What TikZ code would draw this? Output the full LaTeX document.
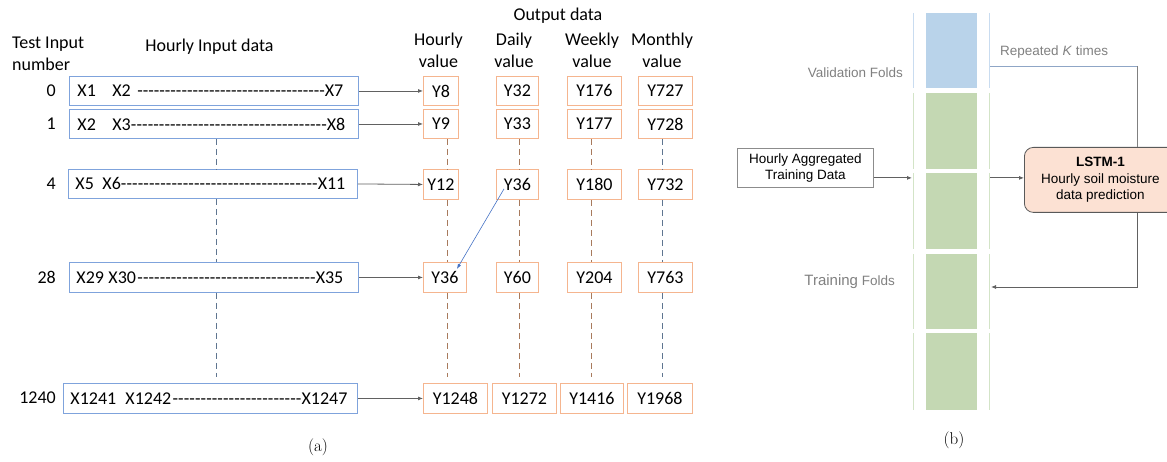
\documentclass[tikz,border=0pt]{standalone}
\usepackage{fontspec}
\newfontfamily\calfont{Carlito}
\newfontfamily\arialfont{Liberation Sans}
\usetikzlibrary{arrows.meta,calc}

\definecolor{inblue}{HTML}{7FA3DC}
\definecolor{outorange}{HTML}{F5B58F}
\definecolor{dashslate}{HTML}{5F7590}
\definecolor{dashbrown}{HTML}{A87A5C}
\definecolor{valblue}{HTML}{B9D3EA}
\definecolor{valline}{HTML}{C9DCF0}
\definecolor{trgreen}{HTML}{C4D8B3}
\definecolor{trline}{HTML}{D3E4C7}
\definecolor{lstmfill}{HTML}{FCE1D3}
\definecolor{foldtext}{HTML}{808080}
\definecolor{loopblue}{HTML}{8FA6C6}
\definecolor{linkblue}{HTML}{4472C4}

% one input window: left margin, first, gap, second, gap, dashes, last, right margin, total width
\newcommand\xseq[8]{\hbox to #8pt{\hspace*{#1pt}#2\hspace*{#3pt}#4\hspace*{#5pt}\xleaders\hbox{-}\hfill#6\hspace*{#7pt}}}

\tikzset{
  lbl/.style={inner sep=0pt, font=\calfont\fontsize{18}{22}\selectfont},
  inbox/.style={draw=inblue, line width=0.9pt, anchor=north west, inner sep=0pt,
    font=\calfont\fontsize{18}{22}\selectfont},
  outbox/.style={draw=outorange, line width=0.9pt, anchor=north west, inner sep=0pt,
    font=\calfont\fontsize{18}{22}\selectfont},
  conn/.style={draw=black!62, line width=0.8pt, -{Latex[length=5pt,width=4pt]}},
  coldash/.style={line width=0.9pt, dash pattern=on 6pt off 4pt},
  foldlbl/.style={inner sep=0pt, text=foldtext, font=\arialfont\fontsize{13.5}{16}\selectfont},
  flowbox/.style={anchor=north west, inner sep=0pt, align=center,
    font=\arialfont\fontsize{13.5}{16.5}\selectfont},
}

\begin{document}
\begin{tikzpicture}[x=1pt, y=-1pt]
\useasboundingbox (0,0) rectangle (1167,462);
\clip (0,0) rectangle (1167,462);

% ---------- (a) sliding windows of hourly inputs ----------
\node[lbl, align=left, anchor=west] (tin) at (12,54) {Test Input\\number};
\node[lbl] (hin) at (209.5,47) {Hourly Input data};
\node[lbl] (outttl) at (558,16) {Output data};
\node[lbl, align=center] (hdH) at (438.5,50) {Hourly\\value};
\node[lbl, align=center] (hdD) at (514,50) {Daily\\value};
\node[lbl, align=center] (hdW) at (592,50) {Weekly\\value};
\node[lbl, align=center] (hdM) at (662,50) {Monthly\\value};

% row numbers
\node[lbl, anchor=east] (n0) at (56,90.5) {0};
\node[lbl, anchor=east] (n1) at (56,123.5) {1};
\node[lbl, anchor=east] (n4) at (56,183.5) {4};
\node[lbl, anchor=east] (n28) at (56,277) {28};
\node[lbl, anchor=east] (n1240) at (56,398) {1240};

% input windows
\node[inbox, minimum width=289, minimum height=29] (i0) at (69,76)
  {\xseq{8}{X1}{16.5}{X2}{6.5}{X7}{15}{289}};
\node[inbox, minimum width=289, minimum height=29] (i1) at (69,109)
  {\xseq{8}{X2}{16.5}{X3}{0}{X8}{13}{289}};
\node[inbox, minimum width=289, minimum height=29] (i4) at (68,169)
  {\xseq{7}{X5}{8.5}{X6}{0}{X11}{12}{289}};
\node[inbox, minimum width=289, minimum height=30] (i28) at (69,262)
  {\xseq{7}{X29}{4.4}{X30}{1.4}{X35}{15}{289}};
\node[inbox, minimum width=294, minimum height=30] (i1240) at (63,383)
  {\xseq{7}{X1241}{9.2}{X1242}{1.2}{X1247}{10}{294}};

% output values
\node[outbox, minimum width=35, minimum height=29] (h0) at (423,76) {Y8};
\node[outbox, minimum width=35, minimum height=29] (h1) at (423,109) {Y9};
\node[outbox, minimum width=35, minimum height=30] (h4) at (423,169) {Y12};
\node[outbox, minimum width=43, minimum height=30] (h28) at (423,262) {Y36};
\node[outbox, minimum width=64, minimum height=30] (h1240) at (423,383) {Y1248};

\node[outbox, minimum width=42, minimum height=29] (d0) at (496,76) {Y32};
\node[outbox, minimum width=42, minimum height=29] (d1) at (496,109) {Y33};
\node[outbox, minimum width=42, minimum height=30] (d4) at (496,169) {Y36};
\node[outbox, minimum width=42, minimum height=30] (d28) at (496,262) {Y60};
\node[outbox, minimum width=64, minimum height=30] (d1240) at (492,383) {Y1272};

\node[outbox, minimum width=54, minimum height=29] (w0) at (567,76) {Y176};
\node[outbox, minimum width=54, minimum height=29] (w1) at (567,109) {Y177};
\node[outbox, minimum width=54, minimum height=30] (w4) at (567,169) {Y180};
\node[outbox, minimum width=54, minimum height=30] (w28) at (567,262) {Y204};
\node[outbox, minimum width=63, minimum height=30] (w1240) at (560,383) {Y1416};

\node[outbox, minimum width=54, minimum height=29] (m0) at (638,76) {Y727};
\node[outbox, minimum width=54, minimum height=29] (m1) at (638,109) {Y728};
\node[outbox, minimum width=54, minimum height=30] (m4) at (638,169) {Y732};
\node[outbox, minimum width=54, minimum height=30] (m28) at (638,262) {Y763};
\node[outbox, minimum width=65, minimum height=30] (m1240) at (627,383) {Y1968};

% window -> hourly value
\foreach \r in {0,1,4,28,1240}
  \draw[conn] (i\r.east) -- (h\r.west);

% dashed continuation columns
\coordinate (cI) at (216.5,0);
\coordinate (cH) at (447,0);
\coordinate (cD) at (519,0);
\coordinate (cW) at (591,0);
\coordinate (cM) at (662,0);
\foreach \colname/\cx/\clr in {i/cI/dashslate, h/cH/dashbrown, d/cD/dashbrown, w/cW/dashbrown, m/cM/dashslate} {
  \draw[coldash, draw=\clr] (\colname1.south -| \cx) -- (\colname4.north -| \cx);
  \draw[coldash, draw=\clr] (\colname4.south -| \cx) -- (\colname28.north -| \cx);
  \draw[coldash, draw=\clr] (\colname28.south -| \cx) -- ($(\colname1240.north -| \cx)+(0,-6)$);
}

% daily Y36 corresponds to hourly Y36
\draw[draw=linkblue, line width=0.6pt, -{Latex[length=5pt,width=3.5pt]}]
  ([xshift=8pt,yshift=11pt]d4.south west) -- ([xshift=-10pt,yshift=-7pt]h28.north east);

\node[font=\fontsize{17}{20}\selectfont, inner sep=0pt] (capa) at (318,447) {(a)};

% ---------- (b) K-fold training loop ----------
\fill[valblue] (926,13) rectangle (977,88);
\draw[valline, line width=0.9pt] (913,13) -- (913,88);
\draw[valline, line width=0.9pt] (989,13) -- (989,88);
\foreach \ya/\yb in {93/169, 173/249, 254/329, 333/410} {
  \fill[trgreen] (926,\ya) rectangle (977,\yb);
  \draw[trline, line width=0.9pt] (913,\ya) -- (913,\yb);
  \draw[trline, line width=0.9pt] (989,\ya) -- (989,\yb);
}

\node[foldlbl, anchor=east] (valf) at (903,73) {Validation Folds};
\node[foldlbl, anchor=east] (trf) at (895,282)
  {{\fontsize{15}{16}\selectfont Training} Folds};
\node[foldlbl, anchor=west] (rep) at (1000,52) {Repeated \textit{K} times};

\node[flowbox, draw=black!45, line width=0.8pt, minimum width=136, minimum height=39] (agg)
  at (737,148) {Hourly Aggregated\\Training Data};
\node[flowbox, draw=black!65, line width=0.8pt, fill=lstmfill, rounded corners=9pt,
  minimum width=152, minimum height=65] (lstm) at (1024,147)
  {\textbf{LSTM-1}\\Hourly soil moisture\\data prediction};

\coordinate (foldL) at (912,0);
\coordinate (foldR) at (990,0);
\coordinate (loopX) at (1137,0);
\coordinate (aggout) at ([yshift=-10pt]agg.east);
\coordinate (repstart) at (990,66);
\coordinate (ret) at (991,287);

\draw[conn] (aggout) -- (aggout -| foldL);
\draw[conn] (aggout -| foldR) -- (aggout -| lstm.west);
\draw[draw=loopblue, line width=0.8pt] (repstart) -- (repstart -| loopX);
\draw[draw=black!50, line width=0.8pt] (repstart -| loopX) -- (lstm.north -| loopX);
\draw[conn] (lstm.south -| loopX) |- (ret);

\node[font=\fontsize{17}{20}\selectfont, inner sep=0pt] (capb) at (954,440) {(b)};
\end{tikzpicture}
\end{document}
